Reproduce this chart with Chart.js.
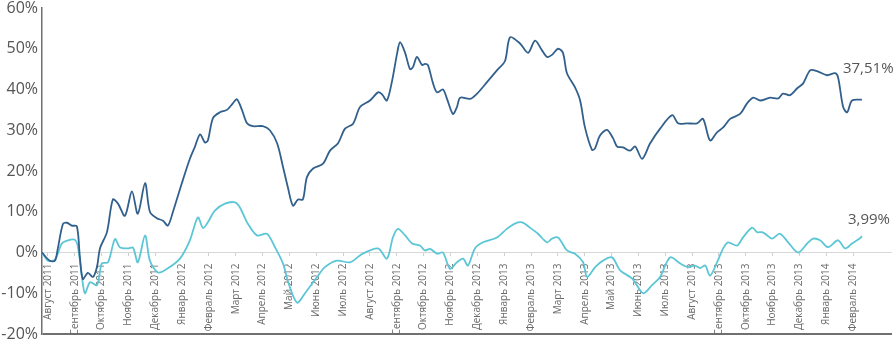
<!DOCTYPE html>
<html>
<head>
<meta charset="utf-8">
<script src="https://cdn.jsdelivr.net/npm/chart.js@4/dist/chart.umd.min.js"></script>
<style>
  html, body { margin: 0; padding: 0; background: #fff; }
  #wrap { width: 895px; height: 341px; }
</style>
</head>
<body>
<div id="wrap"><canvas id="graph"></canvas></div>
<script>
// month labels (tick i = month i, from Aug 2011)
var months = ['Август 2011', 'Сентябрь 2011', 'Октябрь 2011', 'Ноябрь 2011', 'Декабрь 2011',
    'Январь 2012', 'Февраль 2012', 'Март 2012', 'Апрель 2012', 'Май 2012', 'Июнь 2012',
    'Июль 2012', 'Август 2012', 'Сентябрь 2012', 'Октябрь 2012', 'Ноябрь 2012', 'Декабрь 2012',
    'Январь 2013', 'Февраль 2013', 'Март 2013', 'Апрель 2013', 'Май 2013', 'Июнь 2013',
    'Июль 2013', 'Август 2013', 'Сентябрь 2013', 'Октябрь 2013', 'Ноябрь 2013', 'Декабрь 2013',
    'Январь 2014', 'Февраль 2014'];

// dark blue series: time (months since Aug 2011) and value (%)
var blueT = [-0.22, 0.07, 0.26, 0.37, 0.56, 0.71, 0.89, 1.08, 1.19, 1.30, 1.49, 1.68, 1.83, 1.94,
    2.20, 2.42, 2.61, 2.87, 3.13, 3.35, 3.62, 3.80, 4.06, 4.29, 4.47, 4.66, 4.99, 5.29, 5.48, 5.67,
    5.85, 5.96, 6.15, 6.41, 6.67, 6.89, 7.04, 7.23, 7.42, 7.64, 8.01, 8.27, 8.54, 8.76, 8.94, 9.13,
    9.32, 9.50, 9.65, 9.88, 10.25, 10.51, 10.81, 11.07, 11.37, 11.63, 12.00, 12.30, 12.45, 12.63,
    12.82, 13.01, 13.12, 13.31, 13.49, 13.60, 13.75, 13.94, 14.05, 14.16, 14.35, 14.50, 14.72,
    14.87, 15.09, 15.24, 15.36, 15.73, 15.99, 16.36, 16.73, 17.03, 17.22, 17.59, 17.89, 18.15,
    18.41, 18.60, 18.78, 19.01, 19.19, 19.34, 19.64, 19.83, 20.01, 20.27, 20.38, 20.57, 20.83,
    21.06, 21.21, 21.43, 21.69, 21.88, 22.14, 22.44, 22.81, 23.26, 23.48, 23.82, 24.19, 24.41,
    24.67, 24.93, 25.16, 25.42, 25.79, 26.05, 26.28, 26.54, 26.91, 27.21, 27.39, 27.65, 27.92,
    28.14, 28.40, 28.66, 29.03, 29.33, 29.44, 29.63, 29.78, 29.96, 30.33];
var blueV = [0, -2, -2, 1, 7, 7.3, 6.6, 6.4, -1, -6.5, -5, -6, -3.5, 1,
    5, 13, 12, 9, 15, 9.5, 17, 10, 8.4, 7.8, 6.6, 10, 17, 23, 26, 29,
    27, 27.5, 33, 34.4, 35, 36.6, 37.6, 35, 31.7, 31, 31, 30, 26.8, 21, 16, 11.5,
    13, 13, 18.5, 20.6, 21.8, 25, 26.8, 30.4, 31.6, 35.7, 37.3, 39.3, 38.8, 37.3,
    42, 48.8, 51.6, 49, 45, 45.5, 48, 46, 46.3, 46, 41.5, 39.3, 40,
    37.7, 34, 35.7, 38, 37.7, 39, 41.8, 44.7, 47, 52.8, 51.3, 49, 52,
    49.6, 48, 48.5, 50, 49, 44, 40.5, 37.3, 30.7, 25.2, 25.5, 28.7, 30.1,
    28, 26, 25.8, 25, 26, 23, 26.8, 30.4, 33.7, 31.7, 31.7, 31.7, 32.8,
    27.5, 29.5, 30.7, 32.8, 34, 36.6, 38, 37.3, 38, 37.8, 39, 38.6, 40.3,
    41.5, 44.7, 44.5, 43.5, 44, 43, 35.7, 34.4, 37.3, 37.51];

// light cyan series
var cyanT = [-0.22, 0.00, 0.26, 0.52, 0.75, 1.01, 1.12, 1.27, 1.38, 1.57, 1.83, 2.01, 2.24, 2.50,
    2.68, 2.98, 3.17, 3.35, 3.62, 3.80, 4.10, 4.44, 4.92, 5.29, 5.59, 5.78, 5.96, 6.22, 6.60, 6.97,
    7.16, 7.42, 7.79, 8.16, 8.46, 8.76, 8.94, 9.28, 9.58, 10.03, 10.32, 10.77, 11.26, 11.70, 12.30,
    12.63, 12.86, 13.04, 13.31, 13.57, 13.86, 14.05, 14.24, 14.50, 14.72, 14.98, 15.24, 15.47,
    15.65, 15.91, 16.21, 16.73, 17.10, 17.40, 17.67, 17.96, 18.26, 18.60, 18.78, 19.01, 19.34,
    19.64, 19.94, 20.09, 20.39, 20.68, 21.02, 21.32, 21.77, 22.18, 22.51, 22.81, 23.18, 23.56,
    23.85, 24.11, 24.30, 24.49, 24.67, 24.93, 25.16, 25.34, 25.68, 25.90, 26.24, 26.42, 26.61,
    26.80, 26.98, 27.28, 27.58, 27.95, 28.29, 28.51, 28.77, 29.07, 29.44, 29.70, 29.96, 30.26, 30.33];
var cyanV = [0, -2, -1.8, 2.2, 3, 3.1, 1.3, -6, -10, -7.3, -8, -2.7, -2.4, 3.3,
    1.3, 1, 1.2, -2.4, 4.2, -2, -4.9, -4, -1.5, 3, 8.6, 6, 7.4, 10.3, 12, 12.3,
    11, 7.4, 4.2, 4.6, 1.3, -2.7, -7, -12.3, -10, -6, -3.6, -2, -2.4, -0.4, 1,
    -1.5, 3.8, 5.8, 4.2, 2.2, 1.7, 0.5, 0.9, -0.3, 0, -4, -2.4, -1.5,
    -3.2, 1, 2.5, 3.7, 5.8, 7.1, 7.4, 6.1, 4.6, 2.5, 3.4, 3.7, 0.5,
    -0.3, -2.4, -6, -3.6, -2, -1.2, -4.4, -6.4, -10, -8, -6, -1.2, -2.7,
    -3.6, -3.2, -3.8, -3.2, -5.7, -2.4, 1, 2.5, 1.7, 3.7, 6.1, 5, 5,
    4.2, 3.4, 4.6, 2.5, 0, 2.2, 3.4, 3, 1.3, 3, 1, 2.2, 3.5, 3.99];

var endLabels = ['37,51%', '3,99%'];

function toPoints(t, v) {
    return t.map(function (x, i) { return { x: x, y: v[i] }; });
}

// the tick labels may overflow the chart area, like in the original
function noPadding(scale) {
    scale.paddingTop = 0;
    scale.paddingBottom = 0;
    scale.paddingLeft = 0;
    scale.paddingRight = 0;
}

var endLabelPlugin = {
    id: 'endLabels',
    afterDatasetsDraw: function (chart) {
        var ctx = chart.ctx;
        ctx.save();
        ctx.font = '15px "Open Sans"';
        ctx.fillStyle = '#555';
        ctx.textBaseline = 'middle';
        chart.data.datasets.forEach(function (ds, i) {
            var meta = chart.getDatasetMeta(i);
            var pt = meta.data[meta.data.length - 1];
            ctx.fillText(endLabels[i], pt.x + ds.labelOffset[0], pt.y + ds.labelOffset[1]);
        });
        ctx.restore();
    }
};

var ctx = document.getElementById('graph').getContext('2d');

var data = {
    datasets: [{
        data: toPoints(blueT, blueV),
        borderColor: '#32608c',
        borderWidth: 1.8,
        labelOffset: [-19, -31]
    },
    {
        data: toPoints(cyanT, cyanV),
        borderColor: '#5cc6d6',
        borderWidth: 1.8,
        labelOffset: [-14, -17]
    }]
};

var options = {
    responsive: true,
    maintainAspectRatio: false,
    animation: false,
    layout: { padding: { top: 8, bottom: 7, right: 3, left: 0 } },
    elements: {
        point: { radius: 0 },
        line: { tension: 0.3 }
    },
    plugins: {
        legend: { display: false },
        tooltip: { enabled: false }
    },
    scales: {
        x: {
            type: 'linear',
            min: -0.22,
            max: 31.45,
            position: { y: 0 },
            grid: { drawOnChartArea: false, tickLength: 3, color: '#d0d0d0' },
            border: { display: false },
            afterBuildTicks: function (scale) {
                scale.ticks = months.map(function (m, i) { return { value: i }; });
            },
            afterFit: noPadding,
            ticks: {
                autoSkip: false,
                maxRotation: 90,
                minRotation: 90,
                padding: 8,
                color: '#6a6a6a',
                font: { family: 'Open Sans', size: 10 },
                callback: function (v) { return months[v] || ''; }
            }
        },
        y: {
            min: -20,
            max: 60,
            afterFit: function (scale) {
                scale.width = 42;
                noPadding(scale);
            },
            grid: {
                drawTicks: false,
                color: function (c) {
                    if (c.tick.value === 0) return '#d8d8d8';
                    if (c.tick.value === -20) return '#707070';
                    return 'rgba(0,0,0,0)';
                },
                lineWidth: function (c) { return c.tick.value === -20 ? 2 : 1; }
            },
            border: { color: '#707070', width: 1.5 },
            ticks: {
                stepSize: 10,
                padding: 4,
                color: '#555',
                font: { family: 'Open Sans', size: 16 },
                callback: function (v) { return v + '%'; }
            }
        }
    }
};

var graph = new Chart(ctx, {
    type: 'line',
    data: data,
    options: options,
    plugins: [endLabelPlugin]
});
</script>
</body>
</html>
